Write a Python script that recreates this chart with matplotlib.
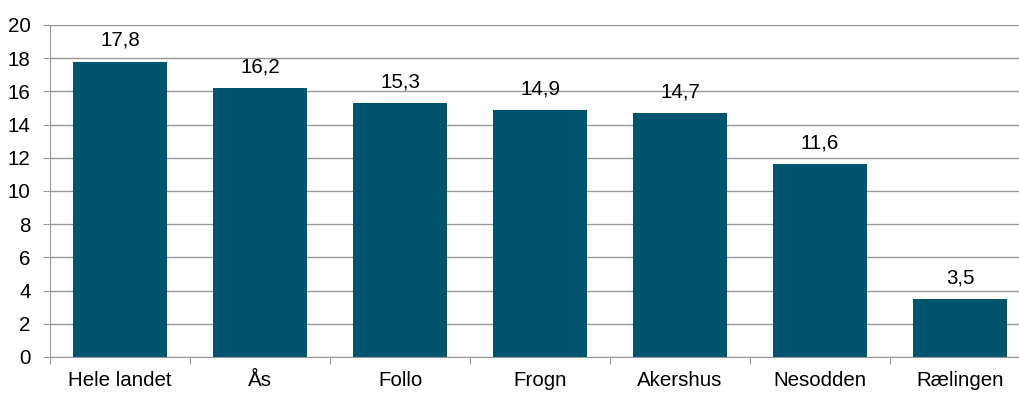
import matplotlib.pyplot as plt
import numpy as np

plt.rcParams['font.family'] = ['Liberation Sans', 'DejaVu Sans']

categories = ["Hele landet", "Ås", "Follo", "Frogn", "Akershus", "Nesodden", "Rælingen"]
values = [17.8, 16.2, 15.3, 14.9, 14.7, 11.6, 3.5]

fig = plt.figure(figsize=(10.19, 3.93), dpi=100)
ax = fig.add_axes([50 / 1019, 36 / 393, 980 / 1019, 332 / 393])

x = np.arange(len(categories))
ax.bar(x, values, width=0.67, color="#00546E", zorder=3)
for xi, v in zip(x, values):
    ax.text(xi, v + 0.7, f"{v:.1f}".replace(".", ","), ha="center", va="bottom", fontsize=14.8)

ax.set_xlim(-0.5, len(categories) - 0.5)
ax.set_ylim(0, 20)
ax.set_yticks(range(0, 21, 2))
ax.yaxis.grid(True, color="#999999", linewidth=1, zorder=0)

ax.set_xticks(np.arange(-0.5, len(categories), 1))
ax.set_xticklabels([])
ax.set_xticks(x, minor=True)
ax.set_xticklabels(categories, minor=True)
ax.tick_params(axis="x", which="minor", length=0, pad=10, labelsize=14.8)
ax.tick_params(axis="x", which="major", length=5, color="#999999")
ax.tick_params(axis="y", length=5, color="#999999", pad=9, labelsize=14.8)

for s in ["top", "right"]:
    ax.spines[s].set_visible(False)
for s in ["left", "bottom"]:
    ax.spines[s].set_color("#999999")

fig.savefig("out.png", dpi=100)
